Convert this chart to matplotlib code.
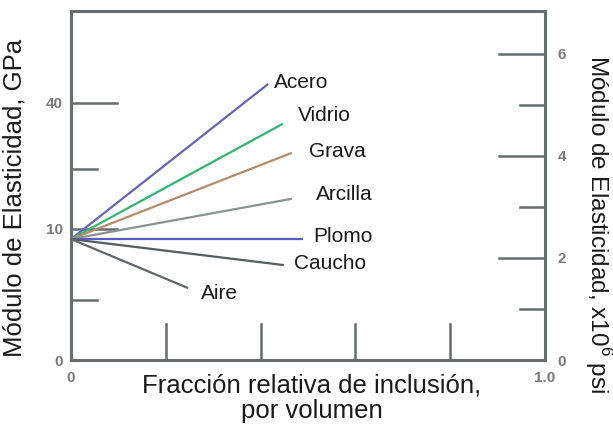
import matplotlib
matplotlib.use('Agg')
import matplotlib.pyplot as plt

plt.rcParams['font.family'] = ['Liberation Sans', 'DejaVu Sans']
plt.rcParams['mathtext.fontset'] = 'custom'
plt.rcParams['mathtext.rm'] = 'Liberation Sans'

# Data (modulus in x10^6 psi vs relative inclusion fraction)
materials = ['Acero', 'Vidrio', 'Grava', 'Arcilla', 'Plomo', 'Caucho', 'Aire']
start_y = 2.37
end_x = [0.416, 0.447, 0.466, 0.466, 0.49, 0.449, 0.247]
end_y = [5.41, 4.63, 4.06, 3.16, 2.37, 1.86, 1.41]

right_ticks = [0, 1, 2, 3, 4, 5, 6]
right_labels = ['0', '', '2', '', '4', '', '6']
left_ticks = [0, 1.18, 2.57, 3.75, 5.04]
left_labels = ['0', '', '10', '', '40']
x_ticks = [0.2, 0.4, 0.6, 0.8]

colors = ['#6565b5', '#2fb673', '#b48c6a', '#8c9292', '#5c5cc0', '#585c5e', '#62666a']
# label offsets (points) from line ends
offsets = [(4, 1), (11, 6), (12, 1), (17, 3), (7, 2), (7, 1), (9, -4)]

spine_c = '#686c6e'
tick_c = '#7a7a7a'

fig = plt.figure(figsize=(6.13, 4.30), dpi=100)
ax = fig.add_axes([71 / 613, 1 - 360 / 430, 474 / 613, 349 / 430])
ax.set_xlim(0, 1)
ax.set_ylim(0, 6.84)

for i, name in enumerate(materials):
    ax.plot([0, end_x[i]], [start_y, end_y[i]], color=colors[i], lw=1.6,
            solid_capstyle='butt', zorder=3)
    ax.annotate(name, (end_x[i], end_y[i]), xytext=offsets[i],
                textcoords='offset points', ha='left', va='center',
                fontsize=15, color='#1a1a1a')

for s in ax.spines.values():
    s.set_color(spine_c)
    s.set_linewidth(2.2)

# inward ticks drawn as short segments in axes coords
for t in x_ticks:
    ax.plot([t, t], [0, 36 / 349], color=spine_c, lw=1.8, transform=ax.transAxes,
            clip_on=False)
for i, t in enumerate(left_ticks[1:]):
    L = 46 if left_labels[i + 1] else 26
    ax.plot([0, L / 474], [t, t], color=spine_c, lw=1.8,
            transform=ax.get_yaxis_transform(), clip_on=False)
for i, t in enumerate(right_ticks[1:]):
    L = 46 if right_labels[i + 1] else 25
    ax.plot([1 - L / 474, 1], [t, t], color=spine_c, lw=1.8,
            transform=ax.get_yaxis_transform(), clip_on=False)

ax.set_xticks([0, 1])
ax.set_xticklabels(['0', '1.0'])
ax.set_yticks(left_ticks)
ax.set_yticklabels(left_labels)
ax.tick_params(axis='both', length=0, labelsize=11, labelcolor=tick_c)
ax.tick_params(axis='y', pad=6)
ax.tick_params(axis='x', pad=8)
for lab in ax.get_xticklabels() + ax.get_yticklabels():
    lab.set_fontweight('bold')
ax.get_xticklabels()[1].set_x(0.985)

ax2 = ax.twinx()
ax2.set_ylim(ax.get_ylim())
ax2.set_yticks(right_ticks)
ax2.set_yticklabels(right_labels)
ax2.tick_params(axis='y', length=0, labelsize=11, labelcolor=tick_c, pad=9)
for lab in ax2.get_yticklabels():
    lab.set_fontweight('bold')
for s in ax2.spines.values():
    s.set_visible(False)

fig.text(15 / 613, 1 - 198 / 430, 'Módulo de Elasticidad, GPa', rotation=90,
         ha='center', va='center', fontsize=18.5, color='#1a1a1a')
fig.text(598 / 613, 1 - 224 / 430, 'Módulo de Elasticidad, x10$^6$ psi', rotation=-90,
         ha='center', va='center', fontsize=17.5, color='#1a1a1a')
fig.text(312 / 613, 1 - 398 / 430, 'Fracción relativa de inclusión,\npor volumen',
         ha='center', va='center', fontsize=18.5, color='#1a1a1a', linespacing=1.1)

fig.savefig('out.png', dpi=100)
